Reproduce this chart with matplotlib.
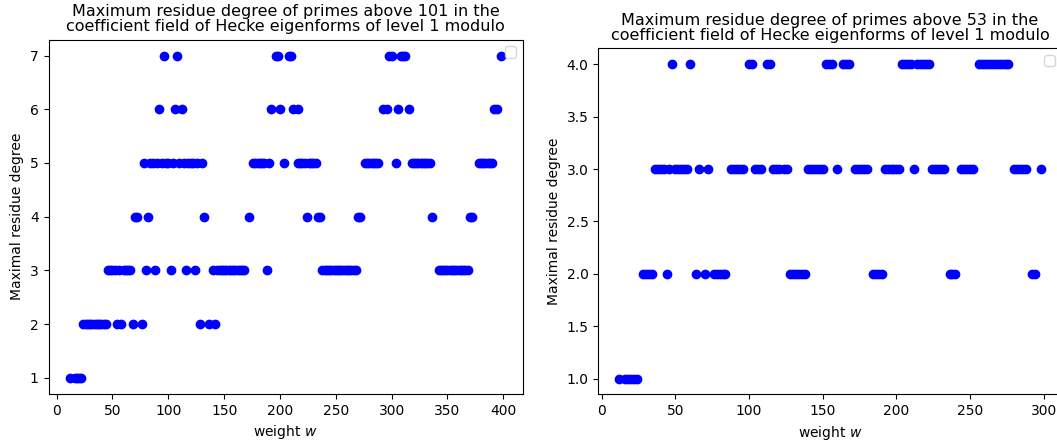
import matplotlib
matplotlib.use('Agg')
import matplotlib.pyplot as plt

# weights whose maximum residue degree is d, primes above 101
w101_d1 = [12, 16, 18, 20, 22]
w101_d2 = [24, 26, 28, 30, 32, 34, 36, 38, 40, 42, 44, 54, 58, 68, 76, 128, 136, 142]
w101_d3 = [46, 48, 50, 52, 56, 60, 62, 64, 66, 80, 88, 102, 116, 124,
           140, 144, 146, 148, 150, 152, 154, 156, 158, 160, 162, 164, 166, 168, 188,
           238, 240, 242, 244, 246, 248, 250, 252, 254, 256, 258, 260, 262, 264, 266, 268,
           342, 344, 346, 348, 350, 352, 354, 356, 358, 360, 362, 364, 366, 368]
w101_d4 = [70, 72, 82, 132, 172, 224, 234, 236, 270, 272, 336, 370, 372]
w101_d5 = [78, 84, 86, 90, 94, 98, 100, 104, 110, 114, 118, 120, 122, 126, 130,
           176, 178, 180, 182, 184, 186, 190, 204, 216, 218, 220, 222, 226, 228, 230, 232,
           276, 278, 280, 282, 284, 286, 288, 304, 318, 320, 322, 324, 326, 328, 330, 332, 334,
           378, 380, 382, 384, 386, 388, 390]
w101_d6 = [92, 106, 112, 192, 200, 212, 216, 292, 296, 306, 316, 392, 394]
w101_d7 = [96, 108, 196, 198, 208, 210, 298, 300, 308, 310, 312, 398]

# same for primes above 53
w53_d1 = [12, 16, 18, 20, 22, 24]
w53_d2 = [28, 30, 32, 34, 44, 64, 70, 76, 78, 80, 82, 84, 128, 130, 132, 134, 136, 138,
          184, 186, 188, 190, 236, 238, 240, 292, 294]
w53_d3 = [36, 38, 40, 42, 46, 50, 52, 54, 56, 58, 66, 72, 88, 90, 92, 94, 96,
          104, 106, 108, 116, 118, 120, 124, 126, 140, 142, 144, 146, 148, 150, 160,
          172, 174, 176, 178, 180, 192, 194, 196, 198, 200, 202, 212,
          224, 226, 228, 230, 232, 244, 246, 248, 250, 252, 280, 282, 284, 286, 288, 298]
w53_d4 = [48, 60, 100, 102, 112, 114, 152, 154, 156, 164, 166, 168,
          204, 206, 208, 210, 214, 216, 218, 220, 222,
          256, 258, 260, 262, 264, 266, 268, 270, 272, 274, 276]

left_title = ('Maximum residue degree of primes above 101 in the\n'
              'coefficient field of Hecke eigenforms of level 1 modulo')
right_title = ('Maximum residue degree of primes above 53 in the\n'
               'coefficient field of Hecke eigenforms of level 1 modulo')

fig = plt.figure(figsize=(10.57, 4.42), dpi=100)
ax1 = fig.add_axes([0.0459, 0.109, 0.4485, 0.8016])
ax2 = fig.add_axes([0.566, 0.1075, 0.4387, 0.783])

rows101 = [w101_d1, w101_d2, w101_d3, w101_d4, w101_d5, w101_d6, w101_d7]
for d, ws in enumerate(rows101, start=1):
    ax1.plot(ws, [d] * len(ws), 'bo')
ax1.set_title(left_title, fontsize=11.5, linespacing=1.0)
ax1.set_xlabel('weight $w$')
ax1.set_ylabel('Maximal residue degree')
ax1.legend()

rows53 = [w53_d1, w53_d2, w53_d3, w53_d4]
for d, ws in enumerate(rows53, start=1):
    ax2.plot(ws, [float(d)] * len(ws), 'bo')
ax2.set_title(right_title, fontsize=11.5, linespacing=1.0)
ax2.set_xlabel('weight $w$')
ax2.set_ylabel('Maximal residue degree')
ax2.legend()

fig.savefig('out.png', dpi=100)
